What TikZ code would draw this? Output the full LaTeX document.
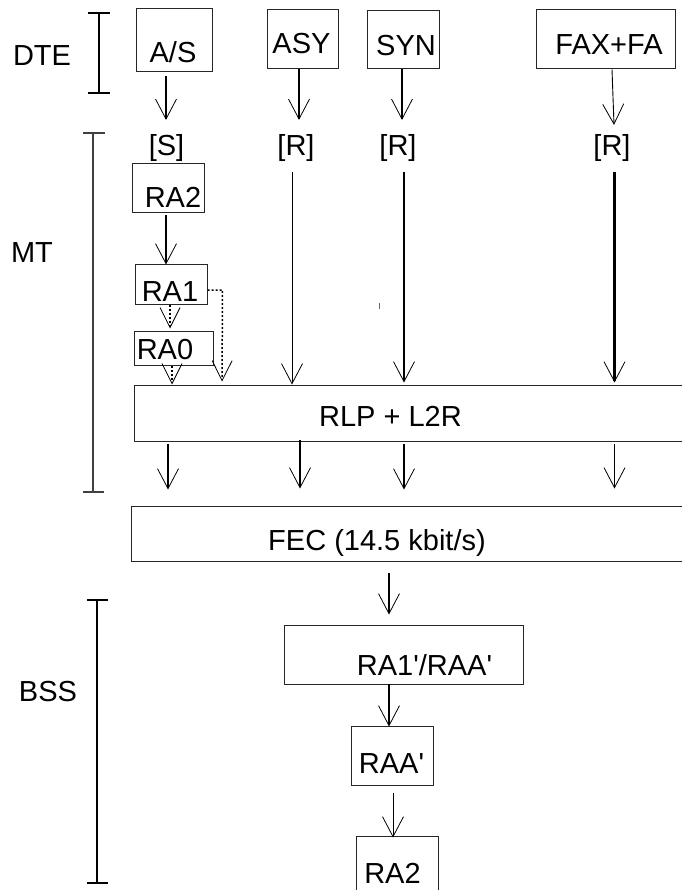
\documentclass[tikz,border=0pt]{standalone}
\usepackage{fontspec}
\setmainfont{Liberation Sans}[Ligatures=TeXOff]
\usetikzlibrary{arrows.meta,calc}
\begin{document}
\begin{tikzpicture}[x=1pt,y=-1pt,
  box/.style={draw=black!85, line width=1pt, inner sep=0pt},
  txt/.style={font=\fontsize{29}{34}\selectfont, text height=20.8pt, text depth=0pt, inner sep=0pt},
  arr/.style={line width=1.4pt, -{Straight Barb[length=20pt,width=21pt,line width=0.8pt]}},
  darr/.style={line width=1.5pt, dash pattern=on 2pt off 2pt, -{Straight Barb[length=20pt,width=20pt,line width=0.8pt]}},
  brk/.style={line width=1.4pt},
]
\useasboundingbox (0,0) rectangle (681,890);

% column coordinates
\coordinate (kas) at (166,0);
\coordinate (kasy) at (299,0);
\coordinate (ksyn) at (402,0);
\coordinate (kl1) at (292,0);
\coordinate (kl2) at (404,0);
\coordinate (kl3) at (614.5,0);
\coordinate (kra2) at (166,0);
\coordinate (kra1) at (170,0);
\coordinate (kra0) at (172,0);
\coordinate (kd1) at (168,0);
\coordinate (kd2) at (300,0);
\coordinate (kd3) at (404,0);
\coordinate (kd4) at (614.5,0);
\coordinate (kside) at (222,0);
\coordinate (kfec) at (389,0);
\coordinate (kraa) at (393,0);

% DTE boxes
\node[box, minimum width=76pt, minimum height=63pt, label={[txt,xshift=-1pt,yshift=-12pt]center:A/S}] (as) at (174,40.5) {};
\node[box, minimum width=71pt, minimum height=59pt, label={[txt,xshift=-1pt,yshift=-4pt]center:ASY}] (asy) at (302.5,39.5) {};
\node[box, minimum width=72pt, minimum height=58pt, label={[txt,xshift=3pt,yshift=-5pt]center:SYN}] (syn) at (403,40) {};
\node[box, minimum width=139pt, minimum height=59pt, label={[txt,xshift=3.5pt,yshift=-4.5pt]center:FAX+FA}] (fax) at (605.5,39.5) {};

% rate labels
\node[txt] (s) at (166.5,145.5) {[S]};
\node[txt] (r1) at (296,145.5) {[R]};
\node[txt] (r2) at (398,145.5) {[R]};
\node[txt] (r3) at (612,145.5) {[R]};

% MT boxes
\node[box, minimum width=72pt, minimum height=49pt, label={[txt,xshift=5pt,yshift=-9pt]center:RA2}] (ra2) at (168,188.5) {};
\node[box, minimum width=72pt, minimum height=39pt, label={[txt,xshift=-1pt,yshift=-6.5pt]center:RA1}] (ra1) at (171,284.5) {};
\node[box, minimum width=79pt, minimum height=34pt, label={[txt,xshift=-8.5pt,yshift=-1.5pt]center:RA0}] (ra0) at (173.5,348) {};
\node[box, minimum width=551pt, minimum height=56pt, label={[txt,xshift=-19pt,yshift=-3.5pt]center:RLP + L2R}] (rlp) at (409.5,413) {};
\node[box, minimum width=554pt, minimum height=55pt, label={[txt,xshift=-31pt,yshift=-7pt]center:FEC (14.5 kbit/s)}] (fec) at (408,533.5) {};

% BSS boxes
\node[box, minimum width=239pt, minimum height=59pt, label={[txt,xshift=21pt,yshift=-11pt]center:RA1'/RAA'}] (raap) at (403.5,654.5) {};
\node[box, minimum width=82pt, minimum height=59pt, label={[txt,xshift=-0.5pt,yshift=-8pt]center:RAA'}] (raa) at (392,755.5) {};
\node[box, minimum width=82pt, minimum height=64pt, label={[txt,xshift=-4.5pt,yshift=-5pt]center:RA2}] (ra2b) at (397,868) {};

% side labels
\node[txt] (dte) at (42,55) {DTE};
\node[txt] (mt) at (32,252) {MT};
\node[txt] (bss) at (48,691) {BSS};

% brackets
\draw[brk, line width=2pt] (99,13) -- (99,93) (88,13) -- (110,13) (88,93) -- (110,93);
\draw[brk, line width=1.2pt, black!75] (93,133) -- (93,492) (83,133) -- (105,133) (83,492) -- (104,492);
\draw[brk, line width=1.5pt] (97,600) -- (97,883) (87,600) -- (108,600) (87,883) -- (108,883);

% DTE arrows
\draw[arr, shorten <=4pt, shorten >=15pt] (kas |- as.south) -- (kas |- s.north);
\draw[arr, shorten >=15pt] (kasy |- asy.south) -- (kasy |- r1.north);
\draw[arr, shorten >=15pt] (ksyn |- syn.south) -- (ksyn |- r2.north);
\draw[arr, line width=0.9pt] ([xshift=6.5pt]fax.south) -- ([xshift=2pt,yshift=10pt]r3.north);

% long lines to RLP
\draw[arr, line width=0.9pt, shorten <=16pt] (kl1 |- r1.south) -- (kl1 |- rlp.north);
\draw[arr, line width=1.6pt, shorten <=16pt, shorten >=2pt] (kl2 |- r2.south) -- (kl2 |- rlp.north);
\draw[arr, line width=2.2pt, shorten <=16pt, shorten >=2pt] (kl3 |- r3.south) -- (kl3 |- rlp.north);

% rate adaption chain
\draw[arr, shorten <=2pt] (kra2 |- ra2.south) -- (kra2 |- ra1.north);
\draw[darr, shorten >=2pt] (kra1 |- ra1.south) -- (kra1 |- ra0.north);
\draw[darr] (kra0 |- ra0.south) -- (kra0 |- rlp.north);
\draw[darr, line width=1.5pt, shorten >=3pt] ([yshift=-5.5pt]ra1.east) -- ++(15,0) -- (kside |- rlp.north);

% stray mark
\draw[black!60, line width=1pt] (379,303) -- (379,309);

% RLP to FEC
\draw[arr, shorten <=2pt, shorten >=16pt] (kd1 |- rlp.south) -- (kd1 |- fec.north);
\draw[arr, line width=1.8pt, shorten <=-2pt, shorten >=17pt] (kd2 |- rlp.south) -- (kd2 |- fec.north);
\draw[arr, shorten <=2pt, shorten >=16pt] (kd3 |- rlp.south) -- (kd3 |- fec.north);
\draw[arr, shorten <=2pt, shorten >=17pt] (kd4 |- rlp.south) -- (kd4 |- fec.north);

% FEC to BSS
\draw[arr, shorten <=11pt, shorten >=10pt] (kfec |- fec.south) -- (kfec |- raap.north);
\draw[arr, line width=2pt, shorten <=-1pt, shorten >=-1pt] (kfec |- raap.south) -- (kfec |- raa.north);
\draw[arr, line width=0.9pt, shorten <=7pt, shorten >=-2pt] (kraa |- raa.south) -- (kraa |- ra2b.north);
\end{tikzpicture}
\end{document}
